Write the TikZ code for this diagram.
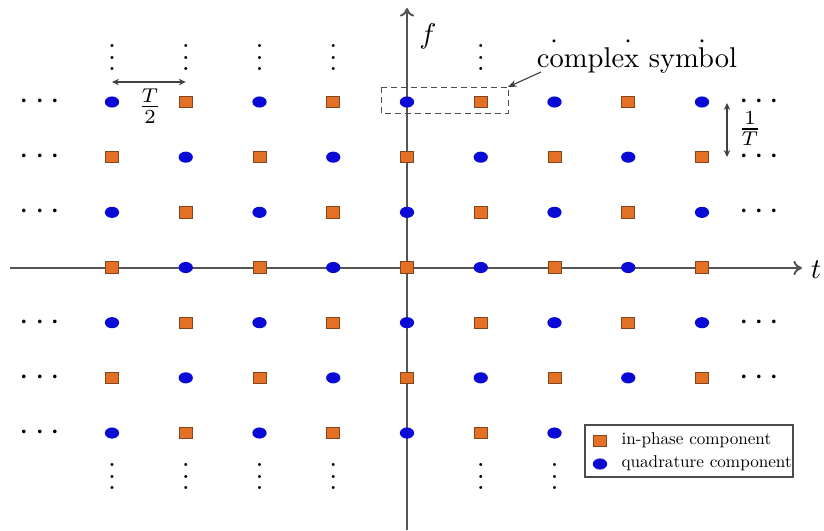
\documentclass[tikz,border=0pt]{standalone}
\usetikzlibrary{arrows.meta,shapes.geometric}
\definecolor{iphase}{RGB}{228,112,38}
\definecolor{iphaseb}{RGB}{130,70,30}
\definecolor{quad}{RGB}{10,10,215}
\definecolor{axisc}{RGB}{85,85,85}
\begin{document}
\begin{tikzpicture}[x=0.35pt,y=-0.35pt,
  sq/.style={rectangle,fill=iphase,draw=iphaseb,line width=0.3pt,minimum width=4.6pt,minimum height=4.0pt,inner sep=0pt},
  qc/.style={ellipse,fill=quad,draw=none,minimum width=5.0pt,minimum height=3.9pt,inner sep=0pt},
  axisline/.style={draw=axisc,line width=0.7pt,-{To[length=3pt,width=5pt]}},
  dimarrow/.style={draw=black!75,line width=0.45pt,{Stealth[length=2.4pt,width=2.2pt]}-{Stealth[length=2.4pt,width=2.2pt]}},
  hdots/.style={inner sep=0pt,font=\fontsize{13}{15}\selectfont},
  vdotsn/.style={inner sep=0pt,font=\fontsize{10}{12}\selectfont},
  legtext/.style={inner sep=0pt}]
\useasboundingbox (0,0) rectangle (824,531);
% axes
\coordinate (tstart) at (10,268);
\coordinate (tend) at (802,268);
\coordinate (fstart) at (407,530);
\coordinate (fend) at (407,8);
\draw[axisline] (tstart) -- (tend);
\draw[axisline] (fstart) -- (fend);
\node (tlab) at (816,270) {$t$};
\node (flab) at (428,36) {$f$};
% grid of symbols
\foreach \i in {0,...,8}{
  \foreach \j in {0,...,6}{
    \pgfmathsetmacro{\xx}{112+73.75*\i}
    \pgfmathsetmacro{\yy}{102+55.17*\j}
    \pgfmathtruncatemacro{\pp}{mod(\i+\j,2)}
    \pgfmathtruncatemacro{\sk}{(\j==6)&&(\i>6)}
    \ifnum\sk=0
      \ifnum\pp=0
        \node[qc] (p-\i-\j) at (\xx,\yy) {};
      \else
        \node[sq] (p-\i-\j) at (\xx,\yy) {};
      \fi
    \fi
  }
}
% dots
\foreach \j in {0,1,2,4,5,6}{
  \pgfmathsetmacro{\yy}{102+55.17*\j}
  \node[hdots] (ld-\j) at (40,\yy) {$\cdots$};
}
\foreach \j in {0,1,2,4,5}{
  \pgfmathsetmacro{\yy}{102+55.17*\j}
  \node[hdots] (rd-\j) at (759,\yy) {$\cdots$};
}
\foreach \i in {0,1,2,3,5}{
  \pgfmathsetmacro{\xx}{112+73.75*\i}
  \node[vdotsn] (td-\i) at (\xx,49) {$\vdots$};
}
\foreach \i in {6,7,8}{
  \pgfmathsetmacro{\xx}{112+73.75*\i}
  \node[vdotsn] (td-\i) at (\xx,42) {$\cdot$};
}
\foreach \i in {0,1,2,3,5,6}{
  \pgfmathsetmacro{\xx}{112+73.75*\i}
  \node[vdotsn] (bd-\i) at (\xx,468) {$\vdots$};
}
% T/2
\coordinate (ta) at (112,82);
\coordinate (tb) at (185.75,82);
\draw[dimarrow] (ta) -- (tb);
\node (thalf) at (150,106) {$\frac{T}{2}$};
% 1/T
\coordinate (fa) at (727,103);
\coordinate (fb) at (727,157);
\draw[dimarrow] (fa) -- (fb);
\node (finv) at (750,129) {$\frac{1}{T}$};
% complex symbol
\coordinate (cb1) at (381,87);
\coordinate (cb2) at (508,113);
\draw[draw=black!70,line width=0.35pt,dash pattern=on 2pt off 1.5pt] (cb1) rectangle (cb2);
\node[inner sep=1pt] (cs) at (637,61) {complex symbol};
\coordinate (cbc) at (508,87);
\coordinate (csa) at (541,72);
\draw[draw=black!75,line width=0.4pt,-{Stealth[length=3pt,width=2.4pt]}] (csa) -- (cbc);
% legend
\coordinate (lg1) at (585,425);
\coordinate (lg2) at (793,477);
\draw[fill=white,draw=black!70,line width=0.5pt] (lg1) rectangle (lg2);
\node[sq] (lsq) at (600,441) {};
\node[qc] (lqc) at (600,464) {};
\node[legtext,anchor=west] (lt1) at (621,440) {\scalebox{0.6}{in-phase component}};
\node[legtext,anchor=west] (lt2) at (621,463) {\scalebox{0.6}{quadrature component}};
\end{tikzpicture}
\end{document}
